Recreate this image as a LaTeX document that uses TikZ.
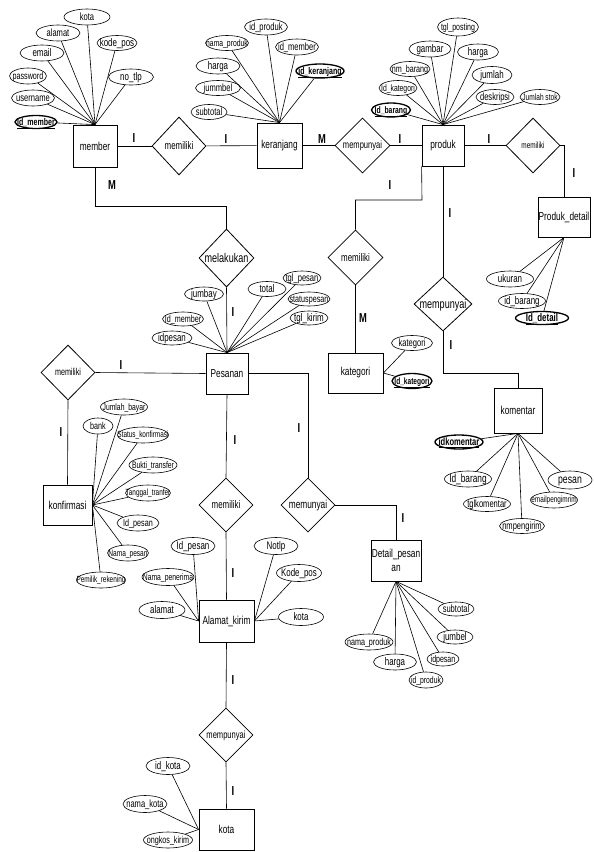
\documentclass[tikz,border=0pt]{standalone}
\usepackage{fontspec}
\setmainfont{Liberation Sans}[FakeStretch=0.72]
\usetikzlibrary{shapes.geometric}
\newcommand\attxt[2][10.5]{{\fontsize{\dimexpr #1pt*105/100\relax}{\dimexpr #1pt*105/100\relax}\selectfont\raisebox{-0.33em}[0pt][0pt]{\makebox[0pt]{#2}}}}
\newcommand\keytxt[2][10.5]{\attxt[#1]{\underline{\textbf{#2}}}}
\tikzset{
  ent/.style={draw, rectangle, line width=0.8pt, inner sep=0pt, font=\fontsize{11.5}{13.5}\selectfont, align=center},
  rel/.style={draw, diamond, line width=0.8pt, inner sep=0pt},
  att/.style={draw, ellipse, line width=0.6pt, inner sep=0pt},
  katt/.style={att, line width=1.3pt},
  card/.style={inner sep=0pt, font=\fontsize{13}{13}\selectfont\bfseries},
  ln/.style={line width=0.6pt},
}
\begin{document}
\begin{tikzpicture}[x=1pt,y=-1pt]
\fill[white] (0,0) rectangle (594,852);
\path[use as bounding box] (0,0) rectangle (594,852);

% ---------- entities ----------
\node[ent, minimum width=44, minimum height=42] (member) at (95,146) {member};
\node[ent, minimum width=45, minimum height=45] (keranjang) at (279.5,145.5) {keranjang};
\node[ent, minimum width=42, minimum height=41] (produk) at (443,145.5) {produk};
\node[ent, minimum width=52, minimum height=40] (pdetail) at (564,217) {Produk\_detail};
\node[ent, minimum width=55, minimum height=40] (kategori) at (355.5,373) {kategori};
\node[ent, minimum width=48, minimum height=45] (komentar) at (518,410.5) {komentar};
\node[ent, minimum width=42, minimum height=41] (pesanan) at (227,373.5) {Pesanan};
\node[ent, minimum width=49, minimum height=40] (konfirmasi) at (67.5,505) {konfirmasi};
\node[ent, minimum width=55, minimum height=42] (alamat) at (226.5,621) {Alamat\_kirim};
\node[ent, minimum width=50, minimum height=41] (detail) at (396,560.5) {Detail\_pesan\\an};
\node[ent, minimum width=55, minimum height=41] (kota) at (226.5,829.5) {kota};

% ---------- relationships ----------
\node[rel, minimum width=54, minimum height=58] (rmk) at (179,146) {\attxt[10.5]{memiliki}};
\node[rel, minimum width=55, minimum height=55] (rkp) at (362.5,145.5) {\attxt[10]{mempunyai}};
\node[rel, minimum width=54, minimum height=55] (rpd) at (533,145.5) {\attxt[8.5]{memiliki}};
\node[rel, minimum width=55, minimum height=58] (rmel) at (226.5,258) {\attxt[12]{melakukan}};
\node[rel, minimum width=55, minimum height=55] (rkat) at (355.5,257.5) {\attxt[10.5]{memiliki}};
\node[rel, minimum width=58, minimum height=54] (rkom) at (443,304) {\attxt[12]{mempunyai}};
\node[rel, minimum width=54, minimum height=55] (rkonf) at (68,372.5) {\attxt[9.5]{memiliki}};
\node[rel, minimum width=54, minimum height=54] (ralm) at (226,505) {\attxt[10.5]{memiliki}};
\node[rel, minimum width=54, minimum height=54] (rdet) at (308,505) {\attxt[11]{memunyai}};
\node[rel, minimum width=54, minimum height=54] (rkota) at (226,735) {\attxt[10]{mempunyai}};

% ---------- relationship connectors ----------
\coordinate (cmel) at (95,206);
\coordinate (cmel2) at (226.5,206);
\coordinate (ckat) at (422,200);
\coordinate (ckom) at (518,373);
\draw[ln] (member) -- (rmk);
\draw[ln] (rmk) -- (keranjang);
\draw[ln] (keranjang) -- (rkp);
\draw[ln] (rkp) -- (produk);
\draw[ln] (produk) -- (rpd);
\draw[ln] (rpd.east) -| (pdetail.north);
\draw[ln] (member.south) -- (cmel) -- (cmel2) -- (rmel.north);
\draw[ln] (rmel.south) -- (pesanan.north);
\draw[ln] (produk.south west) -- (ckat) -| (rkat.north);
\draw[ln] (rkat.south) -- (kategori.north);
\draw[ln] (produk.south) -- (rkom.north);
\draw[ln] (rkom.south) |- (ckom) -- (komentar.north);
\draw[ln] (pesanan.west) -- (rkonf.east);
\draw[ln] (rkonf.south) -- (konfirmasi.north);
\draw[ln] (pesanan.south) -- (ralm.north);
\draw[ln] (ralm.south) -- (alamat.north);
\draw[ln] (pesanan.east) -| (rdet.north);
\draw[ln] (rdet.east) -| (detail.north);
\draw[ln] (alamat.south) -- (rkota.north);
\draw[ln] (rkota.south) -- (kota.north);

% ---------- cardinalities ----------
\node[card] (l1) at (134,138) {I};
\node[card] (l2) at (226,139) {I};
\node[card] (l3) at (322,139) {M};
\node[card] (l4) at (400,139) {I};
\node[card] (l5) at (489,139) {I};
\node[card] (l6) at (574,173) {I};
\node[card] (l7) at (112,185) {M};
\node[card] (l8) at (390,185) {I};
\node[card] (l9) at (450,213) {I};
\node[card] (l10) at (233,312) {I};
\node[card] (l11) at (363,318) {M};
\node[card] (l12) at (451,345) {I};
\node[card] (l13) at (121,365) {I};
\node[card] (l14) at (61,432) {I};
\node[card] (l15) at (235,440) {I};
\node[card] (l16) at (299,428) {I};
\node[card] (l17) at (403,518) {I};
\node[card] (l18) at (233,573) {I};
\node[card] (l19) at (233,680) {I};
\node[card] (l20) at (233,791) {I};

% ---------- member attributes ----------
\node[att, minimum width=46, minimum height=16] (m_kota) at (87,17) {\attxt[10]{kota}};
\node[att, minimum width=44, minimum height=16] (m_alamat) at (58,33) {\attxt[10]{alamat}};
\node[att, minimum width=40, minimum height=15] (m_kodepos) at (117,43) {\attxt[10.5]{kode\_pos}};
\node[att, minimum width=44, minimum height=16] (m_email) at (42,53) {\attxt[10.5]{email}};
\node[att, minimum width=37, minimum height=16] (m_password) at (28,76) {\attxt[9.5]{password}};
\node[att, minimum width=45, minimum height=16] (m_notlp) at (131,77) {\attxt[10.5]{no\_tlp}};
\node[att, minimum width=43, minimum height=16] (m_username) at (33,98) {\attxt[10]{username}};
\node[katt, minimum width=42, minimum height=13] (m_id) at (36,122) {\keytxt[9.3]{Id\_member}};
\foreach \a in {m_kota,m_alamat,m_kodepos,m_email,m_password,m_notlp,m_username,m_id}
  \draw[ln] (\a) -- (member.north);

% ---------- keranjang attributes ----------
\node[att, minimum width=43, minimum height=16] (k_idproduk) at (266,27) {\attxt[10]{id\_produk}};
\node[att, minimum width=43, minimum height=15] (k_nama) at (227,43) {\attxt[9]{nama\_produk}};
\node[att, minimum width=43, minimum height=16] (k_idmember) at (297,47) {\attxt[10]{id\_member}};
\node[att, minimum width=44, minimum height=16] (k_harga) at (218,66) {\attxt[10.5]{harga}};
\node[katt, minimum width=48, minimum height=14] (k_id) at (320,71) {\keytxt[9.3]{id\_keranjang}};
\node[att, minimum width=45, minimum height=15] (k_jummbel) at (218,88) {\attxt[10]{jummbel}};
\node[att, minimum width=36, minimum height=15] (k_subtotal) at (209,112) {\attxt[10]{subtotal}};
\foreach \a in {k_idproduk,k_nama,k_idmember,k_harga,k_id,k_jummbel,k_subtotal}
  \draw[ln] (\a) -- (keranjang.north);

% ---------- produk attributes ----------
\node[att, minimum width=41, minimum height=18] (p_tglposting) at (458,27) {\attxt[9.3]{tgl\_posting}};
\node[att, minimum width=42, minimum height=16] (p_gambar) at (430,49) {\attxt[10.5]{gambar}};
\node[att, minimum width=41, minimum height=16] (p_harga) at (478,52) {\attxt[10.5]{harga}};
\node[att, minimum width=40, minimum height=15] (p_nmbarang) at (410,69) {\attxt[9.5]{nm\_barang}};
\node[att, minimum width=40, minimum height=17] (p_jumlah) at (492,75) {\attxt[10.5]{jumlah}};
\node[att, minimum width=38, minimum height=15] (p_idkategori) at (398,88) {\attxt[9]{Id\_kategori}};
\node[katt, minimum width=39, minimum height=14] (p_id) at (391,110) {\keytxt[9]{Id\_barang}};
\node[att, minimum width=38, minimum height=15] (p_deskripsi) at (495,97) {\attxt[10]{deskripsi}};
\node[att, minimum width=40, minimum height=15] (p_stok) at (540,97) {\attxt[8.7]{Jumlah stok}};
\foreach \a in {p_tglposting,p_gambar,p_harga,p_nmbarang,p_jumlah,p_idkategori,p_id,p_deskripsi,p_stok}
  \draw[ln] (\a) -- (produk.north);

% ---------- Produk_detail attributes ----------
\node[att, minimum width=47, minimum height=16] (pd_ukuran) at (510,279) {\attxt[10.5]{ukuran}};
\node[att, minimum width=47, minimum height=15] (pd_idbarang) at (522,301) {\attxt[10.5]{id\_barang}};
\node[katt, minimum width=53, minimum height=13] (pd_id) at (542,318) {\keytxt[10.5]{Id\_detail}};
\foreach \a in {pd_ukuran,pd_idbarang,pd_id}
  \draw[ln] (\a) -- (pdetail.south);

% ---------- kategori attributes ----------
\node[att, minimum width=41, minimum height=15] (kt_kategori) at (412,343) {\attxt[10]{kategori}};
\node[katt, minimum width=40, minimum height=15] (kt_id) at (412,381) {\keytxt[8.7]{Id\_kategori}};
\foreach \a in {kt_kategori,kt_id}
  \draw[ln] (\a) -- (kategori.east);

% ---------- komentar attributes ----------
\node[katt, minimum width=48, minimum height=14] (km_id) at (459,442) {\keytxt[10]{idkomentar}};
\node[att, minimum width=47, minimum height=16] (km_idbarang) at (468,479) {\attxt[11]{Id\_barang}};
\node[att, minimum width=47, minimum height=15] (km_tgl) at (487,504) {\attxt[10]{tglkomentar}};
\node[att, minimum width=45, minimum height=15] (km_nm) at (522,526) {\attxt[10]{nmpengirim}};
\node[att, minimum width=47, minimum height=16] (km_email) at (554,500) {\attxt[8.5]{emailpengimrim}};
\node[att, minimum width=44, minimum height=18] (km_pesan) at (570,480) {\attxt[11.5]{pesan}};
\foreach \a in {km_id,km_idbarang,km_tgl,km_nm,km_email,km_pesan}
  \draw[ln] (\a) -- (komentar.south);

% ---------- Pesanan attributes ----------
\node[att, minimum width=39, minimum height=14] (ps_jumbay) at (204,294) {\attxt[10.5]{jumbay}};
\node[att, minimum width=38, minimum height=15] (ps_total) at (267,289) {\attxt[10.5]{total}};
\node[att, minimum width=38, minimum height=14] (ps_tglpesan) at (302,278) {\attxt[10]{tgl\_pesan}};
\node[att, minimum width=42, minimum height=14] (ps_status) at (309,299) {\attxt[9.5]{statuspesan}};
\node[att, minimum width=38, minimum height=14] (ps_tglkirim) at (309,318) {\attxt[10.5]{tgl\_kirim}};
\node[att, minimum width=41, minimum height=14] (ps_idmember) at (183,319) {\attxt[9.5]{Id\_member}};
\node[att, minimum width=40, minimum height=14] (ps_idpesan) at (172,338) {\attxt[10.5]{idpesan}};
\foreach \a in {ps_jumbay,ps_total,ps_tglpesan,ps_status,ps_tglkirim,ps_idmember,ps_idpesan}
  \draw[ln] (\a) -- (pesanan.north);

% ---------- konfirmasi attributes ----------
\node[att, minimum width=47, minimum height=16] (kf_jumlah) at (124,407) {\attxt[9]{Jumlah\_bayar}};
\node[att, minimum width=30, minimum height=16] (kf_bank) at (98,426) {\attxt[9.5]{bank}};
\node[att, minimum width=51, minimum height=16] (kf_status) at (143,435) {\attxt[8.5]{Status\_konfirmasi}};
\node[att, minimum width=48, minimum height=16] (kf_bukti) at (153,465) {\attxt[9]{Bukti\_transfer}};
\node[att, minimum width=45, minimum height=16] (kf_tanggal) at (148,493) {\attxt[8.5]{Tanggal\_tranfer}};
\node[att, minimum width=42, minimum height=16] (kf_idpesan) at (138,523) {\attxt[9.5]{Id\_pesan}};
\node[att, minimum width=41, minimum height=16] (kf_nama) at (128,553) {\attxt[8.7]{Nama\_pesan}};
\node[att, minimum width=49, minimum height=16] (kf_pemilik) at (101,580) {\attxt[8.5]{Pemilik\_rekening}};
\foreach \a in {kf_jumlah,kf_bank,kf_status,kf_bukti,kf_tanggal,kf_idpesan,kf_nama,kf_pemilik}
  \draw[ln] (\a) -- (konfirmasi.east);

% ---------- Alamat_kirim attributes ----------
\node[att, minimum width=44, minimum height=17] (ak_idpesan) at (193,546) {\attxt[10.5]{Id\_pesan}};
\node[att, minimum width=52, minimum height=17] (ak_nama) at (168,577) {\attxt[9]{Nama\_penerima}};
\node[att, minimum width=46, minimum height=17] (ak_alamat) at (162,610) {\attxt[10.5]{alamat}};
\node[att, minimum width=44, minimum height=17] (ak_notlp) at (276,546) {\attxt[10.5]{Notlp}};
\node[att, minimum width=45, minimum height=17] (ak_kodepos) at (299,573) {\attxt[10.5]{Kode\_pos}};
\node[att, minimum width=45, minimum height=17] (ak_kota) at (301,617) {\attxt[10.5]{kota}};
\foreach \a in {ak_idpesan,ak_nama,ak_alamat}
  \draw[ln] (\a) -- (alamat.west);
\foreach \a in {ak_notlp,ak_kodepos,ak_kota}
  \draw[ln] (\a) -- (alamat.east);

% ---------- Detail_pesanan attributes ----------
\node[att, minimum width=36, minimum height=14] (dp_subtotal) at (456,609) {\attxt[10]{subtotal}};
\node[att, minimum width=48, minimum height=16] (dp_nama) at (369,642) {\attxt[9.5]{nama\_produk}};
\node[att, minimum width=36, minimum height=14] (dp_jumbel) at (455,637) {\attxt[10.5]{jumbel}};
\node[att, minimum width=43, minimum height=16] (dp_harga) at (395,662) {\attxt[10.5]{harga}};
\node[att, minimum width=32, minimum height=14] (dp_idpesan) at (443,659) {\attxt[9.3]{idpesan}};
\node[att, minimum width=34, minimum height=16] (dp_idproduk) at (426,680) {\attxt[9]{id\_produk}};
\foreach \a in {dp_subtotal,dp_nama,dp_jumbel,dp_harga,dp_idpesan,dp_idproduk}
  \draw[ln] (\a) -- (detail.south);

% ---------- kota attributes ----------
\node[att, minimum width=44, minimum height=17] (ko_id) at (168,766) {\attxt[10.5]{id\_kota}};
\node[att, minimum width=44, minimum height=17] (ko_nama) at (145,804) {\attxt[10]{nama\_kota}};
\node[att, minimum width=49, minimum height=16] (ko_ongkos) at (168,840) {\attxt[9.5]{ongkos\_kirim}};
\foreach \a in {ko_id,ko_nama,ko_ongkos}
  \draw[ln] (\a) -- (kota.west);
\end{tikzpicture}
\end{document}
